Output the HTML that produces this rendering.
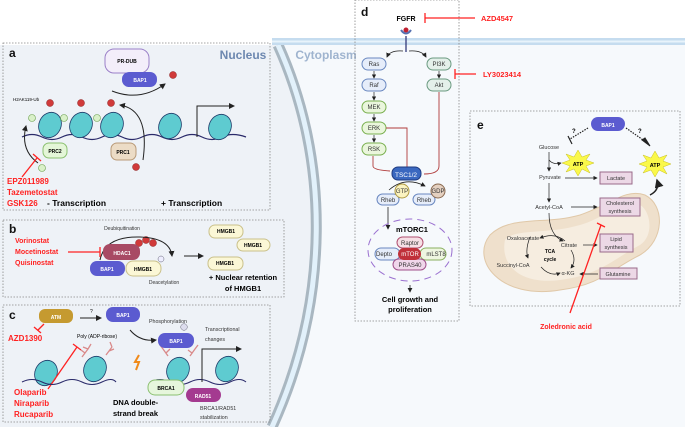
<!DOCTYPE html><html><head><meta charset="utf-8"><style>body{margin:0}svg{display:block;font-family:"Liberation Sans",sans-serif}</style></head><body>
<svg width="685" height="427" viewBox="0 0 685 427" xmlns="http://www.w3.org/2000/svg">
<defs><marker id="ar" markerWidth="6" markerHeight="6" refX="5" refY="3" orient="auto"><path d="M0,0L6,3L0,6z" fill="#222"/></marker></defs>
<rect width="685" height="427" fill="#fff"/>
<rect x="0" y="45" width="685" height="382" fill="#f6f9fc"/>
<path d="M0,45 L278,45 C330,160 330,300 272,427 L0,427z" fill="#eef2f7"/>
<path d="M278,45 C330,160 330,300 272,427" fill="none" stroke="#a9b7c1" stroke-width="11"/>
<path d="M278,45 C330,160 330,300 272,427" fill="none" stroke="#e2f1fb" stroke-width="5"/>
<rect x="272" y="38" width="413" height="7" fill="#c5dcef"/>
<line x1="272" y1="41.5" x2="685" y2="41.5" stroke="#e8f3fb" stroke-width="2"/>
<text x="243" y="59" font-size="12" font-weight="bold" fill="#6d88b0" text-anchor="middle">Nucleus</text>
<text x="326" y="59" font-size="12" font-weight="bold" fill="#9fb4cf" text-anchor="middle">Cytoplasm</text>
<g fill="none" stroke="#888" stroke-dasharray="1.5,1.5" stroke-width="0.8">
<rect x="3" y="43" width="267" height="167"/><rect x="3" y="220" width="281" height="77"/><rect x="3" y="305" width="267" height="117"/>
<rect x="355" y="0" width="104" height="321"/><rect x="470" y="111" width="210" height="195"/></g>
<g font-weight="bold" font-size="12" fill="#111"><text x="9" y="57">a</text><text x="9" y="233">b</text><text x="9" y="319">c</text><text x="361" y="16">d</text><text x="477" y="129">e</text></g>
<!-- panel a -->
<rect x="105" y="49" width="44" height="24" rx="9" fill="#f3eefa" stroke="#9b80c8"/><text x="127" y="63" font-size="5" font-weight="bold" text-anchor="middle">PR-DUB</text>
<rect x="122" y="72" width="35" height="15" rx="7" fill="#5b5bd0"/><text x="140" y="82" font-size="5" font-weight="bold" fill="#fff" text-anchor="middle">BAP1</text>
<path d="M112,91 Q140,102 165,84" fill="none" stroke="#222" marker-end="url(#ar)"/>
<text x="13" y="101" font-size="4.5">H2AK119-Ub</text>
<path d="M22,137 Q32,132 42,137 T62,137 T82,137 T102,137 T122,137 T142,137 T162,137 T182,137 T202,137 T222,137 T246,137" fill="none" stroke="#2a2a6a" stroke-width="1.2"/>
<g fill="#5ecbd0" stroke="#1e3d6b" stroke-width="0.8">
<ellipse cx="50" cy="125" rx="11" ry="13" transform="rotate(25 50 125)"/><ellipse cx="81" cy="125" rx="11" ry="13" transform="rotate(25 81 125)"/><ellipse cx="112" cy="125" rx="11" ry="13" transform="rotate(25 112 125)"/><ellipse cx="170" cy="126" rx="11" ry="13" transform="rotate(25 170 126)"/><ellipse cx="220" cy="127" rx="11" ry="13" transform="rotate(25 220 127)"/>
<ellipse cx="46" cy="373" rx="11" ry="13" transform="rotate(25 46 373)"/><ellipse cx="95" cy="369" rx="11" ry="13" transform="rotate(25 95 369)"/><ellipse cx="178" cy="370" rx="11" ry="13" transform="rotate(25 178 370)"/><ellipse cx="227" cy="369" rx="11" ry="13" transform="rotate(25 227 369)"/></g>
<g fill="#d03a3a" stroke="#8b1e1e" stroke-width="0.5"><circle cx="50" cy="103" r="3.5"/><circle cx="81" cy="103" r="3.5"/><circle cx="111" cy="103" r="3.5"/><circle cx="173" cy="75" r="3.5"/><circle cx="136" cy="167" r="3.5"/><circle cx="139" cy="243" r="3.5"/><circle cx="146" cy="240" r="3.5"/><circle cx="153" cy="243" r="3.5"/></g>
<g fill="#d9f0c8" stroke="#6aa04a" stroke-width="0.6"><circle cx="32" cy="118" r="3.5"/><circle cx="64" cy="118" r="3.5"/><circle cx="97" cy="118" r="3.5"/><circle cx="42" cy="168" r="3.5"/></g>
<path d="M197,137 V106 H234" fill="none" stroke="#222" stroke-width="1" marker-end="url(#ar)"/>
<rect x="43" y="143" width="24" height="15" rx="6" fill="#e4f6d8" stroke="#8bc070"/><text x="55" y="153" font-size="5" font-weight="bold" text-anchor="middle">PRC2</text>
<rect x="111" y="143" width="25" height="17" rx="6" fill="#ecdcc6" stroke="#b99a78"/><text x="123" y="154" font-size="5" font-weight="bold" text-anchor="middle">PRC1</text>
<path d="M143,160 Q150,110 120,105" fill="none" stroke="#222" marker-end="url(#ar)"/>
<path d="M38,163 Q20,150 26,126" fill="none" stroke="#222" marker-end="url(#ar)"/>
<g stroke="#f22" stroke-width="1.3"><line x1="22" y1="177" x2="37" y2="158"/><line x1="33" y1="154" x2="41" y2="161"/></g>
<g fill="#f22" font-size="8" font-weight="bold"><text x="7" y="184">EPZ011989</text><text x="7" y="195">Tazemetostat</text><text x="7" y="206">GSK126</text></g>
<text x="47" y="206" font-size="8.5" font-weight="bold">- Transcription</text><text x="161" y="206" font-size="8.5" font-weight="bold">+ Transcription</text>
<!-- panel b -->
<text x="122" y="230" font-size="5" fill="#333" text-anchor="middle">Deubiquitination</text>
<path d="M100,260 Q105,236 140,237 Q170,238 172,256" fill="none" stroke="#222" marker-end="url(#ar)"/>
<g fill="#f22" font-size="7" font-weight="bold"><text x="15" y="243">Vorinostat</text><text x="15" y="254">Mocetinostat</text><text x="15" y="265">Quisinostat</text></g>
<g stroke="#f22" stroke-width="1.3"><line x1="68" y1="252" x2="100" y2="252"/><line x1="100" y1="247" x2="100" y2="257"/></g>
<rect x="103" y="244" width="37" height="16" rx="7" fill="#a84a64"/><text x="122" y="255" font-size="5" font-weight="bold" fill="#fff" text-anchor="middle">HDAC1</text>
<rect x="90" y="261" width="35" height="15" rx="7" fill="#5b5bd0"/><text x="107" y="271" font-size="5" font-weight="bold" fill="#fff" text-anchor="middle">BAP1</text>
<rect x="126" y="261" width="35" height="15" rx="7" fill="#fbf7d6" stroke="#c9c08a"/><text x="143" y="271" font-size="5" font-weight="bold" text-anchor="middle">HMGB1</text>
<circle cx="161" cy="259" r="3" fill="#eef" stroke="#667" stroke-width="0.5"/>
<text x="164" y="284" font-size="5" fill="#333" text-anchor="middle">Deacetylation</text>
<line x1="184" y1="256" x2="203" y2="256" stroke="#222" marker-end="url(#ar)"/>
<g fill="#fbf7d6" stroke="#c9c08a"><rect x="209" y="225" width="34" height="13" rx="6"/><rect x="237" y="239" width="33" height="12" rx="6"/><rect x="208" y="257" width="35" height="13" rx="6"/></g>
<g font-size="5" font-weight="bold" text-anchor="middle"><text x="226" y="233">HMGB1</text><text x="253" y="247">HMGB1</text><text x="225" y="265">HMGB1</text></g>
<g font-size="7.5" font-weight="bold" text-anchor="middle"><text x="243" y="280">+ Nuclear retention</text><text x="243" y="291">of HMGB1</text></g>
<!-- panel c -->
<rect x="39" y="309" width="34" height="14" rx="6" fill="#c59a30"/><text x="56" y="319" font-size="5" font-weight="bold" fill="#fff" text-anchor="middle">ATM</text>
<text x="90" y="313" font-size="5">?</text><line x1="80" y1="318" x2="101" y2="318" stroke="#222" marker-end="url(#ar)"/>
<rect x="106" y="307" width="34" height="15" rx="7" fill="#5b5bd0"/><text x="123" y="317" font-size="5" font-weight="bold" fill="#fff" text-anchor="middle">BAP1</text>
<g stroke="#f22" stroke-width="1.3"><line x1="38" y1="330" x2="44" y2="324"/><line x1="34" y1="327" x2="41" y2="333"/><line x1="48" y1="389" x2="77" y2="347"/><line x1="73" y1="344" x2="81" y2="350"/></g>
<text x="8" y="341" font-size="8" font-weight="bold" fill="#f22">AZD1390</text>
<text x="168" y="323" font-size="5.3" fill="#333" text-anchor="middle">Phosphorylation</text>
<text x="97" y="338" font-size="5" text-anchor="middle">Poly (ADP-ribose)</text>
<path d="M130,330 Q140,342 156,340" fill="none" stroke="#222" marker-end="url(#ar)"/>
<path d="M22,382 Q32,377 42,382 T62,382 T82,382 T102,382 T116,382" fill="none" stroke="#2a2a6a" stroke-width="1.1"/>
<path d="M150,382 Q160,377 170,382 T190,382 T210,382 T230,382 T246,382" fill="none" stroke="#2a2a6a" stroke-width="1.1"/>
<g stroke="#d98a8a" stroke-width="1.3" fill="none"><path d="M82,357 l6,-8 m-3,4 l-4,-3 m7,-1 l3,-5 m-3,5 l-5,-2"/><path d="M106,355 l6,-8 m-3,4 l5,-2 m-2,-2 l-2,-5"/><path d="M168,356 l-5,-7 m3,4 l4,-4 m-7,0 l-3,-4"/><path d="M190,356 l5,-7 m-3,4 l-4,-3 m7,-1 l3,-4"/></g>
<path d="M139,355 l-4,7 h4 l-3,8" stroke="#f08a1a" stroke-width="2" fill="none"/>
<circle cx="184" cy="327" r="3.3" fill="#dde" stroke="#667" stroke-width="0.5"/>
<rect x="158" y="333" width="36" height="15" rx="7" fill="#5b5bd0"/><text x="176" y="343" font-size="5" font-weight="bold" fill="#fff" text-anchor="middle">BAP1</text>
<path d="M202,382 V349 H241" fill="none" stroke="#222" marker-end="url(#ar)"/>
<text x="205" y="331" font-size="5.3" fill="#333">Transcriptional</text><text x="205" y="341" font-size="5.3" fill="#333">changes</text>
<rect x="148" y="380" width="36" height="15" rx="7" fill="#e6f6dc" stroke="#8bc070"/><text x="166" y="390" font-size="5" font-weight="bold" text-anchor="middle">BRCA1</text>
<rect x="186" y="388" width="35" height="14" rx="7" fill="#a43a90"/><text x="203" y="398" font-size="5" font-weight="bold" fill="#fff" text-anchor="middle">RAD51</text>
<g fill="#f22" font-size="8" font-weight="bold"><text x="14" y="395">Olaparib</text><text x="14" y="406">Niraparib</text><text x="14" y="417">Rucaparib</text></g>
<g font-size="7.5" font-weight="bold"><text x="113" y="405">DNA double-</text><text x="113" y="416">strand break</text></g>
<g font-size="5.3" fill="#333"><text x="200" y="410">BRCA1/RAD51</text><text x="200" y="419">stabilization</text></g>
<!-- panel d -->
<text x="406" y="21" font-size="7" font-weight="bold" text-anchor="middle">FGFR</text>
<g stroke="#f22" stroke-width="1.3"><line x1="425" y1="18" x2="475" y2="18"/><line x1="425" y1="13" x2="425" y2="23"/><line x1="455" y1="74" x2="476" y2="74"/><line x1="455" y1="69" x2="455" y2="79"/></g>
<text x="481" y="21" font-size="7.5" font-weight="bold" fill="#f22">AZD4547</text><text x="483" y="77" font-size="7.5" font-weight="bold" fill="#f22">LY3023414</text>
<path d="M401,30 Q406,37 411,30" fill="none" stroke="#5570b0" stroke-width="2"/><circle cx="406" cy="30" r="2.5" fill="#c02030"/><line x1="406" y1="36" x2="406" y2="52" stroke="#333a7a" stroke-width="1.3"/>
<path d="M403,51 Q390,50 387,57" fill="none" stroke="#222" stroke-width="0.8" marker-end="url(#ar)"/><path d="M409,51 Q422,50 426,57" fill="none" stroke="#222" stroke-width="0.8" marker-end="url(#ar)"/>
<g font-size="6" text-anchor="middle" fill="#333">
<rect x="362" y="58" width="24" height="12" rx="6" fill="#e6edfa" stroke="#6a88c0"/><text x="374" y="66">Ras</text>
<rect x="362" y="79" width="24" height="12" rx="6" fill="#e6edfa" stroke="#6a88c0"/><text x="374" y="87">Raf</text>
<rect x="362" y="101" width="24" height="12" rx="6" fill="#eaf6dc" stroke="#7ab050"/><text x="374" y="109">MEK</text>
<rect x="362" y="122" width="24" height="12" rx="6" fill="#eaf6dc" stroke="#7ab050"/><text x="374" y="130">ERK</text>
<rect x="362" y="143" width="24" height="12" rx="6" fill="#eaf6dc" stroke="#7ab050"/><text x="374" y="151">RSK</text>
<rect x="427" y="58" width="24" height="12" rx="6" fill="#e4f0ea" stroke="#6a9a80"/><text x="439" y="66">PI3K</text>
<rect x="427" y="79" width="24" height="12" rx="6" fill="#e4f0ea" stroke="#6a9a80"/><text x="439" y="87">Akt</text></g>
<g stroke="#222" stroke-width="0.7" marker-end="url(#ar)"><line x1="374" y1="71" x2="374" y2="78"/><line x1="374" y1="92" x2="374" y2="100"/><line x1="374" y1="114" x2="374" y2="121"/><line x1="374" y1="135" x2="374" y2="142"/><line x1="439" y1="71" x2="439" y2="78"/></g>
<g fill="none" stroke="#b03a3a" stroke-width="0.9"><path d="M386,128 H407 V167"/><line x1="404" y1="167" x2="410" y2="167"/><path d="M373,156 V166 Q373,170 390,171"/><path d="M439,92 V166 Q439,174 424,174"/></g>
<rect x="392" y="167" width="29" height="13" rx="6" fill="#3a68c0" stroke="#1e3a80"/><text x="406" y="177" font-size="6.5" fill="#fff" text-anchor="middle">TSC1/2</text>
<path d="M389,190 Q405,176 425,186" fill="none" stroke="#222" stroke-width="0.8" marker-end="url(#ar)"/>
<g font-size="6" text-anchor="middle" fill="#333">
<rect x="377" y="194" width="22" height="11" rx="5.5" fill="#e6edfa" stroke="#6a88c0"/><text x="388" y="202">Rheb</text>
<rect x="413" y="194" width="22" height="11" rx="5.5" fill="#e6edfa" stroke="#6a88c0"/><text x="424" y="202">Rheb</text>
<circle cx="402" cy="191" r="7" fill="#fbf3c0" stroke="#b09a40"/><text x="402" y="193">GTP</text>
<circle cx="438" cy="191" r="7" fill="#e4d0c0" stroke="#8a6a50"/><text x="438" y="193">GDP</text></g>
<line x1="388" y1="207" x2="388" y2="229" stroke="#222" stroke-width="0.8" marker-end="url(#ar)"/>
<ellipse cx="410" cy="250" rx="42" ry="31" fill="none" stroke="#9a70d0" stroke-dasharray="7,5"/>
<text x="412" y="232" font-size="7.5" font-weight="bold" text-anchor="middle">mTORC1</text>
<g font-size="6" text-anchor="middle" fill="#333">
<rect x="375" y="248" width="25" height="12" rx="6" fill="#e6edfa" stroke="#6a88c0"/><text x="384" y="256">Depto</text>
<rect x="420" y="248" width="26" height="12" rx="6" fill="#eef6e0" stroke="#8ab060"/><text x="436" y="256">mLST8</text>
<rect x="397" y="237" width="26" height="11" rx="5.5" fill="#f6e0e6" stroke="#b05070"/><text x="410" y="245">Raptor</text>
<rect x="393" y="259" width="33" height="11" rx="5.5" fill="#f0d6ea" stroke="#a0508a"/><text x="410" y="267">PRAS40</text>
<rect x="398" y="248" width="23" height="12" rx="6" fill="#c0303a"/><text x="410" y="256" fill="#fff">mTOR</text></g>
<line x1="410" y1="285" x2="410" y2="292" stroke="#222" stroke-width="0.8" marker-end="url(#ar)"/>
<g font-size="7.5" font-weight="bold" text-anchor="middle"><text x="410" y="302">Cell growth and</text><text x="410" y="312">proliferation</text></g>
<!-- panel e -->
<path d="M490,235 C470,260 500,300 560,290 C600,285 610,270 640,255 C665,240 665,205 645,195 C625,188 610,205 580,215 C545,225 510,215 490,235z" fill="#efe0cc" stroke="#e0c8a8"/>
<path d="M505,240 C500,265 520,285 560,280 C600,275 615,258 640,245 C655,235 650,210 640,205 C620,200 605,218 580,225 C545,235 515,228 505,240z" fill="#f6ede0"/>
<rect x="591" y="117" width="34" height="14" rx="7" fill="#5b5bd0"/><text x="608" y="127" font-size="5" font-weight="bold" fill="#fff" text-anchor="middle">BAP1</text>
<g stroke="#222" stroke-dasharray="1.5,1.2" stroke-width="1.2" fill="none"><line x1="588" y1="128" x2="570" y2="139"/><line x1="626" y1="128" x2="646" y2="142"/></g>
<line x1="568" y1="136" x2="572" y2="144" stroke="#222" stroke-width="1.2"/><path d="M642,140 L650,146 L645,138z" fill="#222" stroke="#222"/>
<text x="572" y="133" font-size="6" font-weight="bold">?</text><text x="638" y="133" font-size="6" font-weight="bold">?</text>
<g font-size="5.5" fill="#333" text-anchor="middle"><text x="549" y="149">Glucose</text><text x="550" y="179">Pyruvate</text><text x="549" y="209">Acetyl-CoA</text><text x="523" y="240">Oxaloacetate</text><text x="569" y="247">Citrate</text><text x="513" y="267">Succinyl-CoA</text><text x="568" y="275">α-KG</text></g>
<text x="550" y="253" font-size="5" font-weight="bold" text-anchor="middle">TCA</text><text x="550" y="261" font-size="5" font-weight="bold" text-anchor="middle">cycle</text>
<polygon points="578,150 582,157 590,154 586,160 594,163 586,166 590,173 582,169 578,176 574,169 566,172 570,166 562,163 570,160 566,154 574,157" fill="#faf84a" stroke="#c8c020" stroke-width="0.5"/>
<text x="578" y="166" font-size="5.5" font-weight="bold" text-anchor="middle">ATP</text>
<polygon points="655,151 659,158 667,155 663,161 671,164 663,167 667,174 659,170 655,177 651,170 643,173 647,167 639,164 647,161 643,155 651,158" fill="#faf84a" stroke="#c8c020" stroke-width="0.5"/>
<text x="655" y="167" font-size="5.5" font-weight="bold" text-anchor="middle">ATP</text>
<path d="M650,195 Q660,190 657,180" fill="none" stroke="#222" stroke-width="1.5" marker-end="url(#ar)"/>
<g stroke="#222" stroke-width="0.7" fill="none" marker-end="url(#ar)"><line x1="549" y1="152" x2="549" y2="171"/><path d="M549,160 Q553,165 561,163"/><line x1="565" y1="178" x2="597" y2="178"/><line x1="549" y1="183" x2="549" y2="202"/><line x1="571" y1="207" x2="597" y2="207"/><path d="M549,213 Q549,235 563,241"/><line x1="583" y1="245" x2="597" y2="245"/><line x1="598" y1="274" x2="580" y2="274"/><path d="M565,241 Q555,232 540,238"/><path d="M530,237 Q525,250 528,258"/><path d="M541,267 Q550,277 560,273"/><path d="M571,250 Q577,260 571,268"/></g>
<g font-size="5.5" fill="#333" text-anchor="middle">
<rect x="600" y="172" width="32" height="12" fill="#ecd8e6" stroke="#9a6a8a"/><text x="616" y="180">Lactate</text>
<rect x="600" y="198" width="40" height="18" fill="#ecd8e6" stroke="#9a6a8a"/><text x="620" y="205">Cholesterol</text><text x="620" y="213">synthesis</text>
<rect x="600" y="234" width="33" height="18" fill="#ecd8e6" stroke="#9a6a8a"/><text x="616" y="241">Lipid</text><text x="616" y="249">synthesis</text>
<rect x="600" y="268" width="37" height="11" fill="#ecd8e6" stroke="#9a6a8a"/><text x="618" y="276">Glutamine</text></g>
<g stroke="#f22" stroke-width="1.3"><line x1="570" y1="313" x2="601" y2="225"/><line x1="597" y1="223" x2="605" y2="227"/></g>
<text x="566" y="329" font-size="7" font-weight="bold" fill="#f22" text-anchor="middle">Zoledronic acid</text>
</svg></body></html>
